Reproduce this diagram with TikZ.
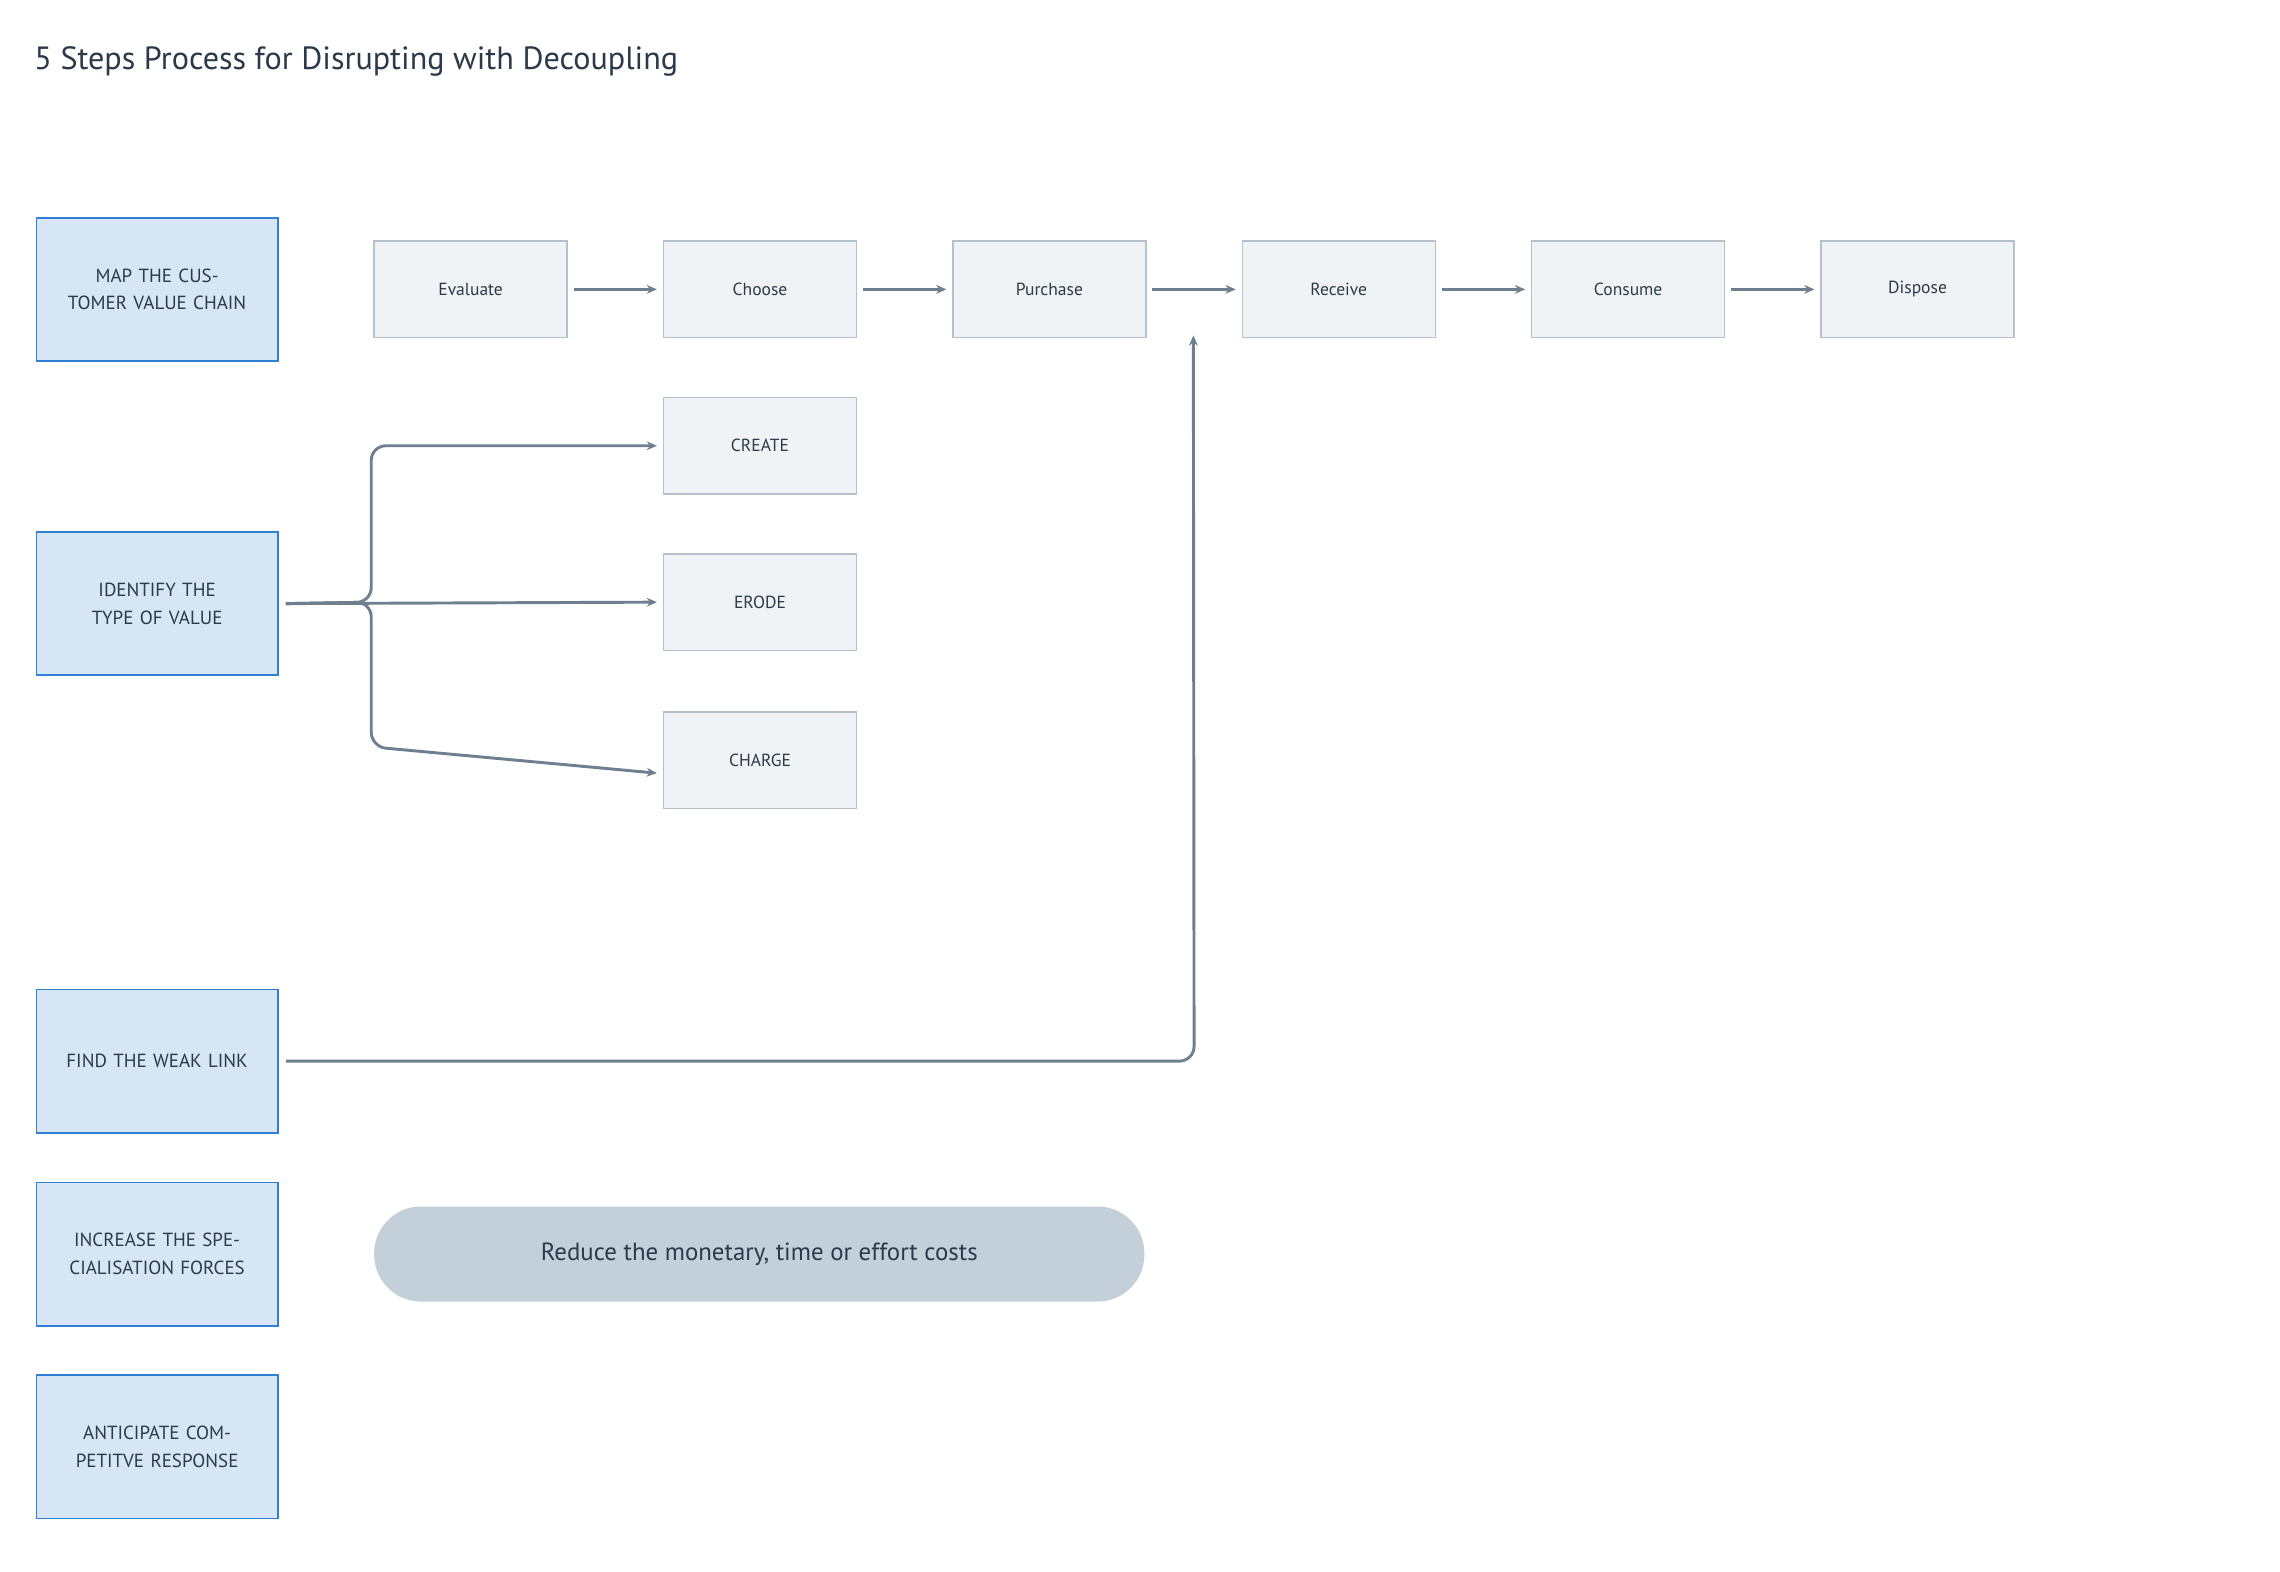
\documentclass[tikz,border=0pt]{standalone}
\usepackage{fontspec}
\setmainfont{PT Sans}
\usetikzlibrary{arrows.meta}
\definecolor{ttl}{HTML}{2B3A4A}
\definecolor{lfill}{HTML}{D6E6F5}
\definecolor{ldraw}{HTML}{2F80D0}
\definecolor{gfill}{HTML}{F0F3F6}
\definecolor{gdraw}{HTML}{B5C1CC}
\definecolor{arr}{HTML}{6E7F90}
\definecolor{pill}{HTML}{C3CFD9}
\tikzset{
 stepbox/.style={draw=ldraw,fill=lfill,line width=1.2pt,minimum width=165pt,minimum height=98pt,text width=150pt,align=center,font=\fontsize{13}{19}\selectfont,text=ttl},
 gbox/.style={draw=gdraw,fill=gfill,line width=1pt,minimum width=132pt,minimum height=66pt,align=center,font=\fontsize{12}{15}\selectfont,text=ttl},
 con/.style={draw=arr,line width=2pt,-{Stealth[length=7pt,width=6pt]}},
}
\begin{document}
\begin{tikzpicture}[x=1pt,y=-1pt]
\useasboundingbox (0,0) rectangle (1560,1075);
\node[anchor=west,font=\fontsize{22}{26}\selectfont,text=ttl] (title) at (20,42) {5 Steps Process for Disrupting with Decoupling};
\node[stepbox] (s1) at (107.5,198) {MAP THE CUSTOMER VALUE CHAIN};
\node[stepbox] (s2) at (107.5,413) {IDENTIFY THE TYPE OF VALUE};
\node[stepbox] (s3) at (107.5,726) {FIND THE WEAK LINK};
\node[stepbox] (s4) at (107.5,858) {INCREASE THE SPECIALISATION FORCES};
\node[stepbox] (s5) at (107.5,990) {ANTICIPATE COMPETITVE RESPONSE};
\node[gbox] (ev) at (322,198) {Evaluate};
\node[gbox] (ch) at (520,198) {Choose};
\node[gbox] (pu) at (718,198) {Purchase};
\node[gbox] (re) at (916,198) {Receive};
\node[gbox] (co) at (1114,198) {Consume};
\node[gbox] (di) at (1312,198) {Dispose};
\node[gbox] (cr) at (520,305) {CREATE};
\node[gbox] (er) at (520,412) {ERODE};
\node[gbox] (cg) at (520,520) {CHARGE};
\node[fill=pill,rounded corners=32pt,minimum width=527pt,minimum height=65pt,font=\fontsize{17}{20}\selectfont,text=ttl] (pl) at (519.5,858) {Reduce the monetary, time or effort costs};
\foreach \a/\b in {ev/ch,ch/pu,pu/re,re/co,co/di}
  \draw[con] ([xshift=4pt]\a.east) -- ([xshift=-4pt]\b.west);
\draw[con,rounded corners=10pt] ([xshift=5pt]s2.east) -- (254,412) -- (254,305) -- ([xshift=-4pt]cr.west);
\draw[con] ([xshift=5pt]s2.east) -- ([xshift=-4pt]er.west);
\draw[con,rounded corners=10pt] ([xshift=5pt]s2.east) -- (254,412) -- (254,511) -- ([xshift=-4pt,yshift=-9pt]cg.west);
\draw[con,rounded corners=10pt] ([xshift=5pt]s3.east) -- (817,726) -- ([xshift=-33pt,yshift=2pt]re.south west);
\end{tikzpicture}
\end{document}
